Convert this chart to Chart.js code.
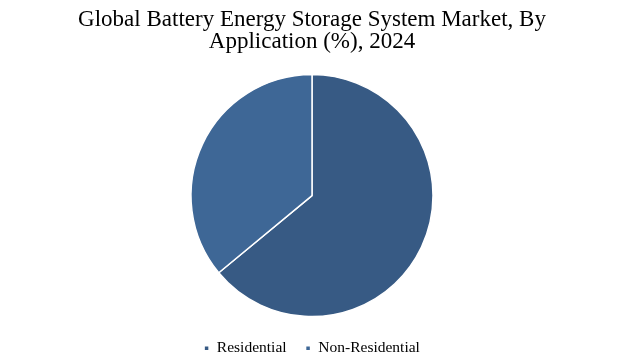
<!DOCTYPE html>
<html>
<head>
<meta charset="utf-8">
<script src="https://cdn.jsdelivr.net/npm/chart.js@4"></script>
<style>
html,body{margin:0;padding:0;background:#fff;}
#wrap{width:628px;height:363px;position:relative;}
</style>
</head>
<body>
<div id="wrap"><canvas id="c" width="628" height="363"></canvas></div>
<script>
const categories = ["Residential", "Non-Residential"];
const shares = [64, 36];
const colors = ["#375a84", "#3e6796"];
const titleLines = ["Global Battery Energy Storage System Market, By", "Application (%), 2024"];

new Chart(document.getElementById("c"), {
  type: "pie",
  data: {
    labels: categories,
    datasets: [{
      data: shares,
      backgroundColor: colors,
      borderColor: "#ffffff",
      borderWidth: 1.5,
      radius: 121
    }]
  },
  options: {
    responsive: false,
    animation: false,
    layout: { padding: { top: 5, bottom: -3, left: 0, right: 4 } },
    plugins: {
      title: {
        display: true,
        text: titleLines,
        color: "#000",
        font: { family: "Liberation Serif", size: 23, weight: "normal", lineHeight: 0.95 },
        padding: { top: 4, bottom: 17 }
      },
      legend: {
        position: "bottom",
        labels: {
          color: "#000",
          boxWidth: 5,
          boxHeight: 5,
          padding: 19,
          font: { family: "Liberation Serif", size: 15.5 }
        }
      },
      tooltip: { enabled: false }
    }
  }
});
</script>
</body>
</html>
